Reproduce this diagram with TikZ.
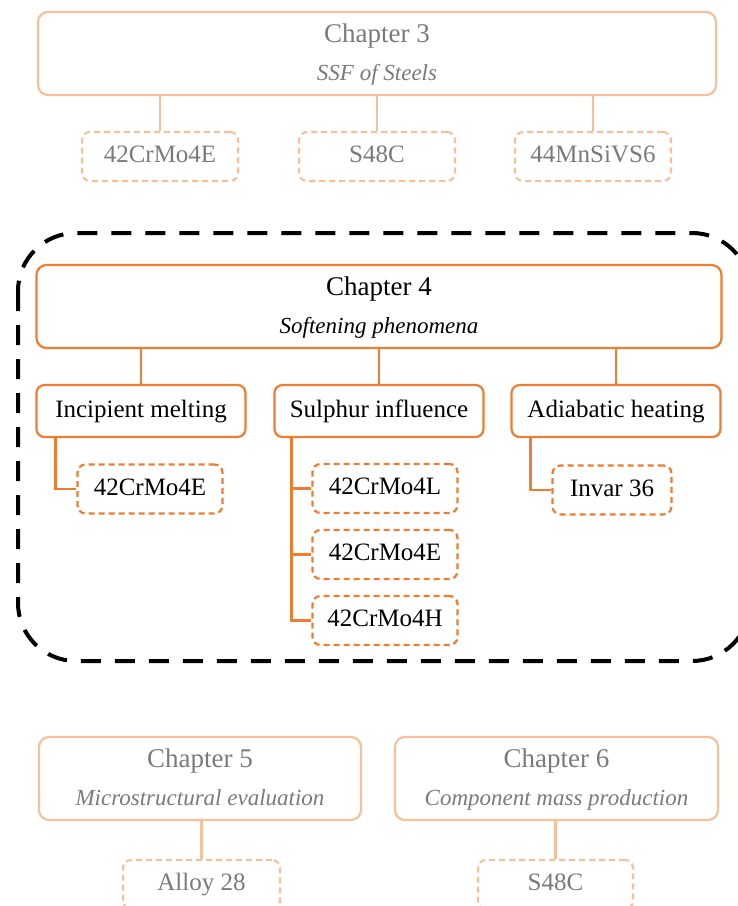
\documentclass[tikz,border=0pt]{standalone}
\usepackage{fontspec}
\setmainfont{Liberation Serif}

\definecolor{chorange}{RGB}{237,125,49}
\definecolor{fadeorange}{RGB}{247,192,155}
\definecolor{fadetext}{RGB}{122,122,122}

\begin{document}
\begin{tikzpicture}[x=1pt, y=-1pt,
        font=\fontsize{25}{38}\selectfont,
        chapbox/.style={draw=chorange, line width=2.2pt, rounded corners=10pt,
            align=center, minimum height=83pt, inner sep=0pt},
        topicbox/.style={draw=chorange, line width=2.2pt, rounded corners=8pt,
            minimum width=209pt, minimum height=52pt, inner sep=0pt,
            text height=17pt, text depth=5pt},
        alloybox/.style={draw=chorange, line width=2.2pt, rounded corners=8pt,
            dash pattern=on 6pt off 4pt, minimum height=49pt, inner sep=0pt,
            text height=17pt, text depth=5pt},
        faded/.style={draw=fadeorange, text=fadetext},
        link/.style={draw=chorange, line width=2.2pt},
        fadedlink/.style={draw=fadeorange, line width=2.2pt}
    ]

        \useasboundingbox (0,0) rectangle (738,906);

        % Chapter 3 (faded)
        \node[chapbox, faded, minimum width=678pt] (ch3) at (377,53.5)
            {{\fontsize{27}{38}\selectfont\strut Chapter 3}\\{\fontsize{23}{38}\selectfont\itshape\strut SSF of Steels}};
        \node[alloybox, faded, minimum width=156pt] (ch3a) at (160,156.5) {42CrMo4E};
        \node[alloybox, faded, minimum width=156pt] (ch3b) at (377,156.5) {S48C};
        \node[alloybox, faded, minimum width=156pt] (ch3c) at (593,156.5) {44MnSiVS6};

        \draw[fadedlink] (ch3.south -| ch3a.north) -- (ch3a.north);
        \draw[fadedlink] (ch3.south -| ch3b.north) -- (ch3b.north);
        \draw[fadedlink] (ch3.south -| ch3c.north) -- (ch3c.north);

        % Chapter 4 (highlighted)
        \draw[black, line width=4pt, dash pattern=on 20pt off 14pt,
            rounded corners=58pt] (18,233) rectangle (750,661);

        \node[chapbox, minimum width=685pt] (ch4) at (379,306.5)
            {{\fontsize{27}{38}\selectfont\strut Chapter 4}\\{\fontsize{23}{38}\selectfont\itshape\strut Softening phenomena}};

        \node[topicbox] (melt)  at (141,411) {Incipient melting};
        \node[topicbox] (sulph) at (379,411) {Sulphur influence};
        \node[topicbox] (adiab) at (616,411) {Adiabatic heating};

        \draw[link] (ch4.south -| melt.north)  -- (melt.north);
        \draw[link] (ch4.south -| sulph.north) -- (sulph.north);
        \draw[link] (ch4.south -| adiab.north) -- (adiab.north);

        \node[alloybox, minimum width=145pt] (meltE)  at (150,489)   {42CrMo4E};
        \node[alloybox, minimum width=145pt] (sulphL) at (385,488.5) {42CrMo4L};
        \node[alloybox, minimum width=145pt] (sulphE) at (385,554.5) {42CrMo4E};
        \node[alloybox, minimum width=145pt] (sulphH) at (385,620.5) {42CrMo4H};
        \node[alloybox, minimum width=119pt] (invar)  at (612,490)   {Invar 36};

        \draw[link] ([xshift=20pt]melt.south west)  |- (meltE.west);
        \draw[link] ([xshift=18pt]sulph.south west) |- (sulphL.west);
        \draw[link] ([xshift=18pt]sulph.south west) |- (sulphE.west);
        \draw[link] ([xshift=18pt]sulph.south west) |- (sulphH.west);
        \draw[link] ([xshift=20pt]adiab.south west) |- (invar.west);

        % Chapters 5 and 6 (faded)
        \node[chapbox, faded, minimum width=322pt] (ch5) at (200,778.5)
            {{\fontsize{27}{38}\selectfont\strut Chapter 5}\\{\fontsize{23}{38}\selectfont\itshape\strut Microstructural evaluation}};
        \node[chapbox, faded, minimum width=323pt] (ch6) at (556.5,778.5)
            {{\fontsize{27}{38}\selectfont\strut Chapter 6}\\{\fontsize{23}{38}\selectfont\itshape\strut Component mass production}};

        \node[alloybox, faded, minimum width=157pt] (ch5a) at (201.5,884.5) {Alloy 28};
        \node[alloybox, faded, minimum width=155pt] (ch6a) at (555.5,884.5) {S48C};

        \draw[fadedlink] (ch5.south -| ch5a.north) -- (ch5a.north);
        \draw[fadedlink] (ch6.south -| ch6a.north) -- (ch6a.north);

    \end{tikzpicture}
\end{document}
